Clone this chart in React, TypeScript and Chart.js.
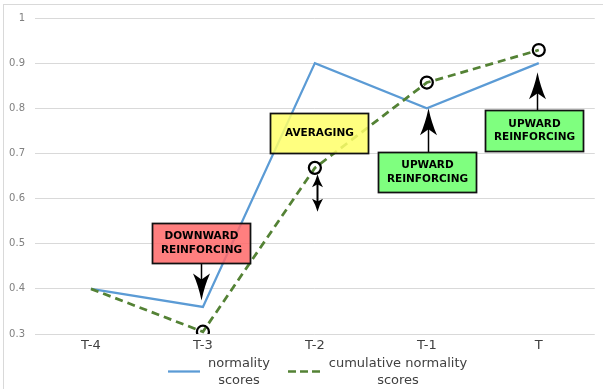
import React, { useEffect, useRef } from "react";
import { Chart, registerables } from "chart.js";
Chart.register(...registerables);

const categories = ["T-4", "T-3", "T-2", "T-1", "T"];
const normalityScores = [0.4, 0.36, 0.9, 0.8, 0.9];
const cumulativeScores = [0.4, 0.305, 0.668, 0.857, 0.929];
const circledPoints = [false, true, true, true, true];
const yMin = 0.3;
const yMax = 1;
const yStep = 0.1;
const normalityLabel = ["normality", "scores"];
const cumulativeLabel = ["cumulative normality", "scores"];

type Note = {
  lines: string[];
  x: number;
  w: number;
  top: number;
  bottom: number;
  fill: string;
  arrow: { x: number; from: number; to: number; both?: boolean };
};

const notes: Note[] = [
  { lines: ["DOWNWARD", "REINFORCING"], x: 0.98, w: 0.875, top: 0.546, bottom: 0.457, fill: "rgba(255,105,105,0.85)", arrow: { x: 0.98, from: 0.457, to: 0.374 } },
  { lines: ["AVERAGING"], x: 2.036, w: 0.875, top: 0.79, bottom: 0.701, fill: "rgba(255,255,105,0.85)", arrow: { x: 2.018, from: 0.571, to: 0.654, both: true } },
  { lines: ["UPWARD", "REINFORCING"], x: 3.0, w: 0.875, top: 0.703, bottom: 0.615, fill: "rgba(105,255,105,0.85)", arrow: { x: 3.01, from: 0.703, to: 0.8 } },
  { lines: ["UPWARD", "REINFORCING"], x: 3.96, w: 0.875, top: 0.796, bottom: 0.706, fill: "rgba(105,255,105,0.85)", arrow: { x: 3.98, from: 0.796, to: 0.88 } },
];

const BLUE = "#5b9bd5";
const GREEN = "#548235";
const FONT = "'DejaVu Sans', Verdana, sans-serif";

function head(ctx: CanvasRenderingContext2D, x: number, tip: number, dir: number, L: number, W: number) {
  const base = tip - dir * L;
  const notch = tip - dir * L * 0.78;
  ctx.beginPath();
  ctx.moveTo(x, tip);
  ctx.quadraticCurveTo(x - W * 0.18, tip - dir * L * 0.55, x - W / 2, base);
  ctx.lineTo(x, notch);
  ctx.lineTo(x + W / 2, base);
  ctx.quadraticCurveTo(x + W * 0.18, tip - dir * L * 0.55, x, tip);
  ctx.closePath();
  ctx.fill();
}

const notesPlugin = {
  id: "notes",
  afterDatasetsDraw(chart: any) {
    const ctx: CanvasRenderingContext2D = chart.ctx;
    const xs = chart.scales.x;
    const ys = chart.scales.y;
    ctx.save();
    for (const n of notes) {
      const ax = Math.round(xs.getPixelForValue(n.arrow.x)) + 0.5;
      const pf = ys.getPixelForValue(n.arrow.from);
      const pt = ys.getPixelForValue(n.arrow.to);
      ctx.fillStyle = "#000";
      ctx.strokeStyle = "#000";
      if (n.arrow.both) {
        const L = 13, W = 11;
        const dirBottom = pf > pt ? 1 : -1;
        ctx.lineWidth = 2;
        ctx.beginPath();
        ctx.moveTo(ax, pf - dirBottom * L * 0.7);
        ctx.lineTo(ax, pt + dirBottom * L * 0.7);
        ctx.stroke();
        head(ctx, ax, pf, dirBottom, L, W);
        head(ctx, ax, pt, -dirBottom, L, W);
      } else {
        const L = 27, W = 17;
        const dir = pt > pf ? 1 : -1;
        ctx.lineWidth = 1.5;
        ctx.beginPath();
        ctx.moveTo(ax, pf);
        ctx.lineTo(ax, pt - dir * L * 0.7);
        ctx.stroke();
        head(ctx, ax, pt, dir, L, W);
      }
      const x1 = Math.round(xs.getPixelForValue(n.x - n.w / 2)) + 0.5;
      const x2 = Math.round(xs.getPixelForValue(n.x + n.w / 2)) + 0.5;
      const y1 = Math.round(ys.getPixelForValue(n.top)) + 0.5;
      const y2 = Math.round(ys.getPixelForValue(n.bottom)) + 0.5;
      ctx.fillStyle = n.fill;
      ctx.fillRect(x1, y1, x2 - x1, y2 - y1);
      ctx.lineWidth = 1.75;
      ctx.strokeStyle = "#111";
      ctx.strokeRect(x1, y1, x2 - x1, y2 - y1);
      ctx.fillStyle = "#000";
      ctx.font = `bold 10.5px ${FONT}`;
      ctx.textAlign = "center";
      ctx.textBaseline = "middle";
      const cx = (x1 + x2) / 2;
      const cy = (y1 + y2) / 2;
      const lh = 13.5;
      n.lines.forEach((t, i) => {
        ctx.fillText(t, cx, cy + (i - (n.lines.length - 1) / 2) * lh);
      });
    }
    ctx.restore();
  },
};

const legendPlugin = {
  id: "customLegend",
  afterDraw(chart: any) {
    const ctx: CanvasRenderingContext2D = chart.ctx;
    ctx.save();
    const ly = 371.5;
    ctx.lineWidth = 2.25;
    ctx.strokeStyle = BLUE;
    ctx.setLineDash([]);
    ctx.beginPath();
    ctx.moveTo(168, ly);
    ctx.lineTo(200, ly);
    ctx.stroke();
    ctx.strokeStyle = GREEN;
    ctx.lineWidth = 2.5;
    ctx.setLineDash([8, 4]);
    ctx.beginPath();
    ctx.moveTo(288, ly);
    ctx.lineTo(320, ly);
    ctx.stroke();
    ctx.setLineDash([]);
    ctx.fillStyle = "#404040";
    ctx.font = `13px ${FONT}`;
    ctx.textAlign = "center";
    ctx.textBaseline = "middle";
    normalityLabel.forEach((t, i) => ctx.fillText(t, 239, 364 + i * 16.5));
    cumulativeLabel.forEach((t, i) => ctx.fillText(t, 398, 364 + i * 16.5));
    ctx.strokeStyle = "#d9d9d9";
    ctx.lineWidth = 1;
    ctx.strokeRect(3.5, 4.5, 800, 800);
    ctx.restore();
  },
};

export default function App() {
  const ref = useRef<HTMLCanvasElement | null>(null);
  useEffect(() => {
    if (!ref.current) return;
    const chart = new Chart(ref.current, {
      type: "line",
      data: {
        labels: categories,
        datasets: [
          {
            label: normalityLabel.join(" "),
            data: normalityScores,
            borderColor: BLUE,
            backgroundColor: BLUE,
            borderWidth: 2.25,
            pointRadius: 0,
            tension: 0,
            order: 1,
          },
          {
            label: cumulativeLabel.join(" "),
            data: cumulativeScores,
            borderColor: GREEN,
            backgroundColor: GREEN,
            borderWidth: 2.75,
            borderDash: [8, 5],
            tension: 0,
            pointRadius: (c: any) => (circledPoints[c.dataIndex] ? 6 : 0),
            pointBorderColor: "#000",
            pointBackgroundColor: "rgba(0,0,0,0)",
            pointBorderWidth: 2.25,
            order: 0,
          },
        ],
      },
      options: {
        responsive: false,
        devicePixelRatio: 1,
        animation: false,
        layout: { padding: { top: 18, right: 8, bottom: 30, left: 0 } },
        plugins: { legend: { display: false }, tooltip: { enabled: false } },
        scales: {
          x: {
            offset: true,
            grid: { display: false, drawTicks: false },
            border: { display: false },
            ticks: { color: "#404040", font: { family: FONT, size: 13 }, padding: 4, maxRotation: 0 },
            afterFit: (s: any) => {
              s.height = 25;
            },
          },
          y: {
            min: yMin,
            max: yMax,
            grid: { color: "#d9d9d9", drawTicks: false, lineWidth: 1 },
            border: { display: false },
            ticks: {
              stepSize: yStep,
              color: "#808080",
              font: { family: FONT, size: 10 },
              padding: 10,
              callback: (v: any) => {
                const r = Math.round(Number(v) * 10) / 10;
                return r === 1 ? "1" : r.toFixed(1);
              },
            },
            afterFit: (s: any) => {
              s.width = 35;
            },
          },
        },
      },
      plugins: [notesPlugin, legendPlugin],
    });
    return () => chart.destroy();
  }, []);
  return (
    <div style={{ position: "fixed", left: 0, top: 0, width: 603, height: 389, background: "#fff" }}>
      <canvas ref={ref} width={603} height={389} />
    </div>
  );
}
